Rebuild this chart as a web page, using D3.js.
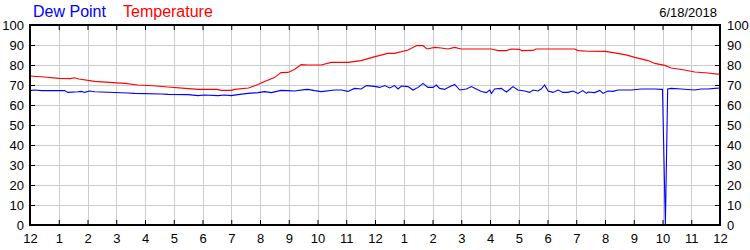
<!DOCTYPE html>
<html>
<head>
<meta charset="utf-8">
<script src="https://cdn.jsdelivr.net/npm/d3@7"></script>
<style>
  body { margin: 0; background: #fff; }
  svg { display: block; }
</style>
</head>
<body>
<div id="chart"></div>
<script>
// temperature readings, [hour of day, degrees F]
const tempData = [
  [0, 74.5], [0.5, 74], [1.0, 73.3], [1.4, 73.2], [1.55, 73.6], [1.7, 73],
  [2.25, 71.8], [2.9, 71.2], [3.3, 70.8], [3.75, 70.0], [4.3, 69.6], [4.8, 69.0],
  [5.4, 68.3], [5.85, 67.8], [6.5, 67.8], [6.65, 67.3], [7.0, 67.3], [7.12, 67.8],
  [7.6, 68.5], [7.93, 70.2], [8.16, 71.7], [8.5, 73.7], [8.73, 76.2], [8.97, 76.3],
  [9.2, 77.8], [9.43, 80.2], [9.67, 80], [10.13, 80], [10.48, 81.3], [11.06, 81.3],
  [11.52, 82.2], [12.0, 84.2], [12.45, 85.8], [12.68, 85.8], [13.15, 87.5], [13.45, 89.7],
  [13.67, 89.7], [13.8, 88], [14.08, 88.8], [14.3, 88.5], [14.54, 88], [14.77, 88.8],
  [15.0, 88], [16.05, 88], [16.28, 87.2], [16.57, 87.2], [16.74, 88], [17.03, 87.8],
  [17.1, 87.2], [17.5, 87.3], [17.6, 88], [18.95, 88], [19.06, 87.2], [19.4, 86.9],
  [20.0, 86.8], [20.45, 85.8], [20.8, 84.8], [21.03, 83.8], [21.5, 82.2], [21.73, 80.8],
  [22.08, 79.8], [22.3, 78.5], [22.77, 77.5], [23.12, 76.5], [23.58, 76], [24, 75.3]
];

// dew point readings, [hour of day, degrees F]
const dewData = [
  [0, 67.2], [0.16, 67.5], [0.4, 67.2], [1.2, 67.2], [1.32, 66.3], [1.67, 66.6],
  [1.79, 66.8], [1.9, 66.3], [2.07, 67], [2.25, 66.6], [3.41, 66], [3.64, 65.8],
  [4.57, 65.5], [4.8, 65.3], [5.5, 65.2], [5.84, 64.7], [6.07, 65], [6.54, 64.7],
  [6.77, 65], [7.0, 64.7], [7.23, 65.2], [7.58, 65.8], [7.93, 66.2], [8.16, 66.7],
  [8.4, 66.2], [8.73, 67.3], [8.97, 67.2], [9.2, 67], [9.55, 67.7], [9.67, 67.8],
  [9.9, 67.2], [10.13, 66.7], [10.6, 67.5], [10.83, 67.5], [11.06, 66.8], [11.29, 68.3],
  [11.52, 68], [11.7, 69.7], [11.99, 69.3], [12.16, 68.8], [12.34, 69.7], [12.51, 68.5],
  [12.68, 69.7], [12.8, 68], [12.92, 69.5], [13.15, 69.2], [13.32, 67.5], [13.5, 68.8],
  [13.67, 70.8], [13.84, 68.8], [14.02, 68.8], [14.13, 70], [14.25, 68.3], [14.42, 67.8],
  [14.54, 68.8], [14.77, 70.3], [14.95, 67.5], [15.18, 68], [15.35, 69.2], [15.52, 68],
  [15.7, 66.7], [15.87, 66.2], [15.99, 67.5], [16.05, 65.8], [16.16, 68], [16.39, 68.3],
  [16.57, 66.5], [16.8, 69.2], [16.97, 67.5], [17.21, 67], [17.38, 66.3], [17.5, 67.5],
  [17.67, 67], [17.78, 68], [17.9, 70], [18.02, 67], [18.19, 66.3], [18.37, 67.5],
  [18.54, 66.3], [18.71, 66.3], [18.89, 67], [19.06, 65.8], [19.23, 67.2], [19.35, 65.8],
  [19.41, 66.5], [19.64, 66.2], [19.82, 67.3], [19.93, 65.8], [20.1, 67], [20.28, 66.8],
  [20.45, 67.5], [20.92, 67.5], [21.26, 68], [21.73, 68], [21.96, 67.8], [22.0, 67.8],
  [22.1, 0], [22.18, 68], [22.3, 68.3], [22.65, 68], [23.12, 67.5], [23.35, 68],
  [23.58, 68], [23.82, 68.3], [24, 68.5]
];

const hourTicks = d3.range(0, 25);
const valueTicks = d3.range(0, 101, 10);
const seriesNames = ["Dew Point", "Temperature"];
const seriesColors = ["#0000ff", "#ff0000"];
const dateLabel = "6/18/2018";

const width = 750, height = 250;
const margin = {top: 25, left: 30, right: 30, bottom: 25};
const font = "Arial, 'Liberation Sans', sans-serif";

const x = d3.scaleLinear([0, 24], [margin.left, width - margin.right]);
const y = d3.scaleLinear([0, 100], [height - margin.bottom, margin.top]);

const svg = d3.select("#chart").append("svg")
  .attr("width", width)
  .attr("height", height)
  .attr("font-family", font);

// grid
svg.append("g")
  .attr("stroke", "#cccccc")
  .attr("stroke-width", 1)
  .call(g => g.selectAll(".v").data(hourTicks.slice(1, -1)).join("line")
    .attr("x1", d => Math.round(x(d)) + 0.5).attr("x2", d => Math.round(x(d)) + 0.5)
    .attr("y1", y(100)).attr("y2", y(0)))
  .call(g => g.selectAll(".h").data(valueTicks.slice(1, -1)).join("line")
    .attr("class", "h")
    .attr("y1", d => y(d) + 0.5).attr("y2", d => y(d) + 0.5)
    .attr("x1", x(0)).attr("x2", x(24)));

const hourFmt = d => (d % 12 === 0 ? 12 : d % 12);

function styleAxis(g) {
  g.select(".domain").remove();
  g.selectAll(".tick line").attr("stroke", "#000");
  g.selectAll(".tick text").attr("fill", "#000").attr("font-size", 13).attr("font-family", font);
}

// bottom axis
svg.append("g")
  .attr("transform", `translate(0,${y(0)})`)
  .call(d3.axisBottom(x).tickValues(hourTicks).tickFormat(hourFmt).tickSize(-5).tickPadding(9))
  .call(styleAxis);

// top axis, ticks only
svg.append("g")
  .attr("transform", `translate(0,${y(100)})`)
  .call(d3.axisTop(x).tickValues(hourTicks).tickFormat("").tickSize(-5))
  .call(styleAxis);

// left axis
svg.append("g")
  .attr("transform", `translate(${x(0)},0)`)
  .call(d3.axisLeft(y).tickValues(valueTicks).tickSize(-5).tickPadding(6))
  .call(styleAxis);

// right axis
svg.append("g")
  .attr("transform", `translate(${x(24)},0)`)
  .call(d3.axisRight(y).tickValues(valueTicks).tickSize(-5).tickPadding(7))
  .call(styleAxis);

// series
const line = d3.line().x(d => x(d[0])).y(d => y(d[1]));

svg.append("path")
  .datum(dewData)
  .attr("fill", "none")
  .attr("stroke", seriesColors[0])
  .attr("stroke-width", 1.1)
  .attr("d", line);

svg.append("path")
  .datum(tempData)
  .attr("fill", "none")
  .attr("stroke", seriesColors[1])
  .attr("stroke-width", 1.1)
  .attr("d", line);

// frame
svg.append("rect")
  .attr("x", x(0)).attr("y", y(100))
  .attr("width", x(24) - x(0)).attr("height", y(0) - y(100))
  .attr("fill", "none")
  .attr("stroke", "#000")
  .attr("stroke-width", 2);

// legend
svg.append("text")
  .attr("x", 33).attr("y", 17)
  .attr("font-size", 16)
  .attr("fill", seriesColors[0])
  .text(seriesNames[0]);

svg.append("text")
  .attr("x", 123).attr("y", 17)
  .attr("font-size", 16)
  .attr("fill", seriesColors[1])
  .text(seriesNames[1]);

svg.append("text")
  .attr("x", 717).attr("y", 17)
  .attr("text-anchor", "end")
  .attr("font-size", 13)
  .attr("fill", "#000")
  .text(dateLabel);
</script>
</body>
</html>
